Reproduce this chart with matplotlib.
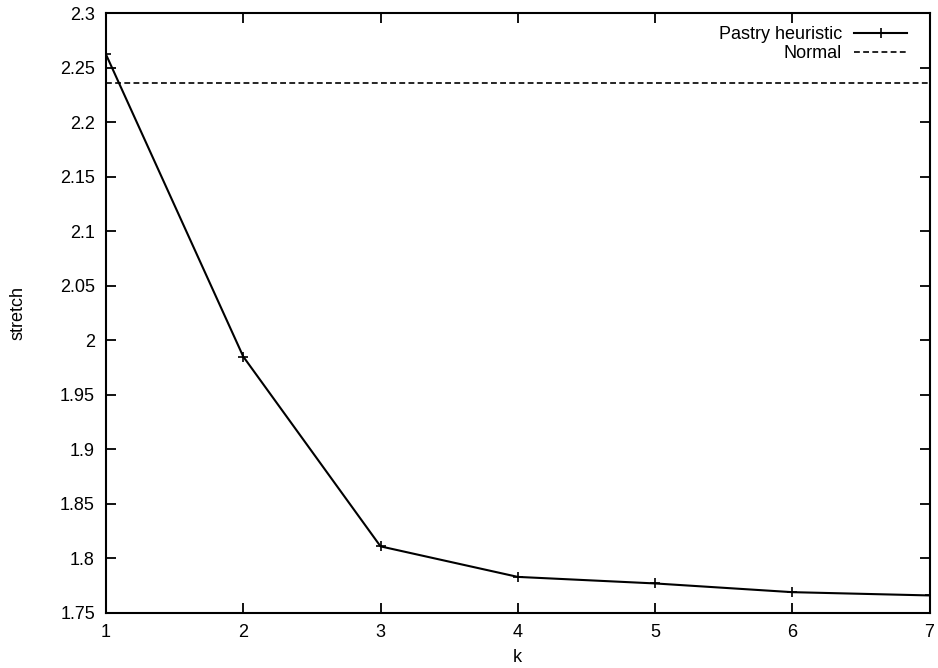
import numpy as np
import matplotlib
matplotlib.use("Agg")
import matplotlib.pyplot as plt

k = [1, 2, 3, 4, 5, 6, 7]
pastry = [2.262, 1.985, 1.811, 1.783, 1.777, 1.769, 1.766]
normal = 2.236

plt.rcParams["font.family"] = ["Liberation Sans", "DejaVu Sans"]
plt.rcParams["font.size"] = 13

fig = plt.figure(figsize=(9.38, 6.68), dpi=100)
ax = fig.add_axes([0.113, 0.0825, 0.878, 0.898])

ax.plot(k, pastry, color="black", lw=1.5, marker="+", ms=7, mew=1.2,
        label="Pastry heuristic")
ax.plot([k[0], k[-1]], [normal, normal], color="black", lw=1.2,
        dashes=(3.5, 2), label="Normal")

ax.set_xlim(1, 7)
ax.set_ylim(1.75, 2.3)
ax.set_xticks(k)
ax.set_yticks(np.arange(1.75, 2.3001, 0.05))
ax.set_yticklabels(["1.75", "1.8", "1.85", "1.9", "1.95", "2", "2.05",
                    "2.1", "2.15", "2.2", "2.25", "2.3"])
ax.tick_params(direction="in", length=7, width=1.3, top=True, right=True,
               pad=8)
for s in ax.spines.values():
    s.set_linewidth(1.5)

ax.set_xlabel("k", labelpad=6)
ax.set_ylabel("stretch", labelpad=24)

ax.legend(loc="upper right", bbox_to_anchor=(0.979, 0.987), frameon=False,
          markerfirst=False, handlelength=2.9, handletextpad=0.7,
          labelspacing=0.1, borderaxespad=0.0, borderpad=0.3, fontsize=13)

plt.savefig("out.png", dpi=100)
